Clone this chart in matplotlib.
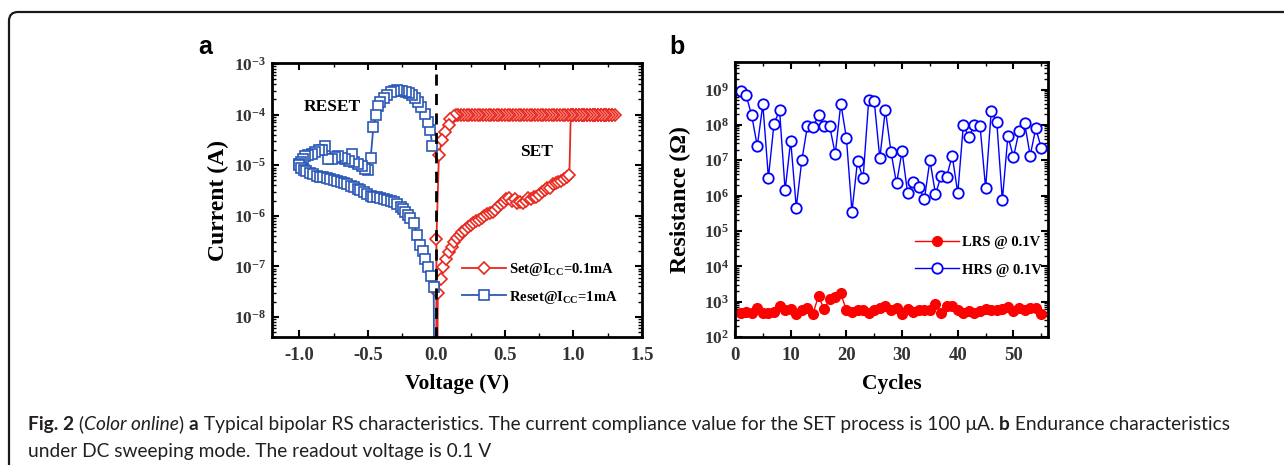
import matplotlib
matplotlib.use("Agg")
import matplotlib.pyplot as plt
from matplotlib.ticker import MultipleLocator, LogLocator, NullFormatter, FixedLocator
from matplotlib.patches import FancyBboxPatch

plt.rcParams['font.family'] = ['Liberation Serif', 'DejaVu Serif']
plt.rcParams['font.weight'] = 'bold'
plt.rcParams['mathtext.fontset'] = 'custom'
plt.rcParams['mathtext.rm'] = 'Liberation Serif:bold'
plt.rcParams['mathtext.it'] = 'Liberation Serif:bold:italic'
plt.rcParams['mathtext.bf'] = 'Liberation Serif:bold'
plt.rcParams['mathtext.default'] = 'rm'
plt.rcParams['axes.unicode_minus'] = False

# ---- panel a : I-V sweep ----
# SET: forward sweep 0 -> 0.97 V (high resistance), then compliance at 0.1 mA
set_v = [0.004, 0.01, 0.03, 0.05, 0.07, 0.09, 0.11, 0.13, 0.15, 0.17, 0.19, 0.21,
         0.23, 0.25, 0.27, 0.29, 0.31, 0.33, 0.35, 0.37, 0.39, 0.41, 0.43, 0.45,
         0.47, 0.49, 0.51, 0.53, 0.55, 0.57, 0.59, 0.61, 0.63, 0.65, 0.67, 0.69,
         0.71, 0.73, 0.75, 0.77, 0.79, 0.81, 0.83, 0.85, 0.87, 0.89, 0.91, 0.93,
         0.95, 0.97,
         0.98, 1.00, 1.02, 1.04, 1.06, 1.08, 1.10, 1.12, 1.14, 1.16, 1.18, 1.20,
         1.22, 1.24, 1.26, 1.28, 1.30,
         1.28, 1.26, 1.24, 1.22, 1.20, 1.18, 1.16, 1.14, 1.12, 1.10, 1.08, 1.06,
         1.04, 1.02, 1.00, 0.98, 0.96, 0.94, 0.92, 0.90, 0.88, 0.86, 0.84, 0.82,
         0.80, 0.78, 0.76, 0.74, 0.72, 0.70, 0.68, 0.66, 0.64, 0.62, 0.60, 0.58,
         0.56, 0.54, 0.52, 0.50, 0.48, 0.46, 0.44, 0.42, 0.40, 0.38, 0.36, 0.34,
         0.32, 0.30, 0.28, 0.26, 0.24, 0.22, 0.20, 0.18, 0.16, 0.14,
         0.125, 0.10, 0.089, 0.064, 0.04, 0.018, 0.0, -0.002]
set_i = [1e-10, 2.9e-8, 5.5e-8, 9.8e-8, 1.4e-7, 1.9e-7, 2.4e-7, 3.0e-7, 3.6e-7, 4.2e-7,
         4.8e-7, 5.3e-7, 5.9e-7, 6.5e-7, 7.1e-7, 7.7e-7, 8.4e-7, 9.1e-7, 1.0e-6,
         1.07e-6, 1.12e-6, 1.2e-6, 1.3e-6, 1.5e-6, 1.7e-6, 1.9e-6, 2.1e-6, 2.2e-6,
         2.0e-6, 2.1e-6, 1.8e-6, 1.9e-6, 1.8e-6, 2.0e-6, 2.2e-6, 2.1e-6, 2.4e-6,
         2.3e-6, 2.6e-6, 3.0e-6, 3.2e-6, 3.5e-6, 3.6e-6, 4.2e-6, 4.4e-6, 4.6e-6,
         4.9e-6, 5.3e-6, 5.8e-6, 6.3e-6,
         1e-4, 1e-4, 1e-4, 1e-4, 1e-4, 1e-4, 1e-4, 1e-4, 1e-4, 1e-4, 1e-4, 1e-4,
         1e-4, 1e-4, 1e-4, 1e-4, 1e-4,
         1e-4, 1e-4, 1e-4, 1e-4, 1e-4, 1e-4, 1e-4, 1e-4, 1e-4, 1e-4, 1e-4, 1e-4,
         1e-4, 1e-4, 1e-4, 1e-4, 1e-4, 1e-4, 1e-4, 1e-4, 1e-4, 1e-4, 1e-4, 1e-4,
         1e-4, 1e-4, 1e-4, 1e-4, 1e-4, 1e-4, 1e-4, 1e-4, 1e-4, 1e-4, 1e-4, 1e-4,
         1e-4, 1e-4, 1e-4, 1e-4, 1e-4, 1e-4, 1e-4, 1e-4, 1e-4, 1e-4, 1e-4, 1e-4,
         1e-4, 1e-4, 1e-4, 1e-4, 1e-4, 1e-4, 1e-4, 1e-4, 1e-4, 1e-4,
         9.6e-5, 8.3e-5, 6.2e-5, 4.6e-5, 3.1e-5, 1.6e-5, 3.5e-7, 1e-10]

# RESET: 0 -> -1.0 V (upper branch), then -1.0 -> 0 V (lower branch)
reset_v = [-0.03, -0.045, -0.06, -0.085, -0.11, -0.135, -0.16, -0.18, -0.20, -0.225,
           -0.25, -0.27, -0.29, -0.31, -0.335, -0.36, -0.385, -0.41, -0.425, -0.44,
           -0.46, -0.48, -0.50, -0.52, -0.545, -0.57, -0.60, -0.615, -0.64, -0.665,
           -0.69, -0.715, -0.74, -0.765, -0.795, -0.815, -0.835, -0.86, -0.885,
           -0.91, -0.935, -0.96, -0.975, -0.99, -1.0,
           -1.0, -0.985, -0.97, -0.95, -0.925, -0.90, -0.875, -0.85, -0.825, -0.80,
           -0.775, -0.75, -0.725, -0.70, -0.675, -0.65, -0.625, -0.60, -0.575,
           -0.555, -0.53, -0.505, -0.48, -0.46, -0.435, -0.41, -0.385, -0.36, -0.335,
           -0.31, -0.285, -0.26, -0.245, -0.227, -0.21, -0.19, -0.167, -0.14, -0.12,
           -0.10, -0.08, -0.06, -0.04, -0.02, -0.015]
reset_i = [2.4e-5, 4.9e-5, 7.2e-5, 1.05e-4, 1.4e-4, 1.8e-4, 2.1e-4, 2.5e-4, 2.7e-4,
           2.8e-4, 2.9e-4, 3.0e-4, 3.1e-4, 3.0e-4, 2.8e-4, 2.4e-4, 2.1e-4, 1.8e-4,
           1.5e-4, 9.8e-5, 5.8e-5, 1.4e-5, 8.0e-6, 8.5e-6, 9.5e-6, 1.05e-5, 1.15e-5,
           1.7e-5, 1.2e-5, 1.3e-5, 1.4e-5, 1.5e-5, 1.45e-5, 1.35e-5, 1.3e-5, 2.45e-5,
           2.0e-5, 2.0e-5, 1.8e-5, 1.7e-5, 1.6e-5, 1.5e-5, 1.3e-5, 1.15e-5, 1.05e-5,
           1.0e-5, 8.8e-6, 8.0e-6, 7.6e-6, 7.0e-6, 6.6e-6, 6.2e-6, 5.9e-6, 5.8e-6,
           5.7e-6, 5.4e-6, 5.1e-6, 4.9e-6, 4.7e-6, 4.4e-6, 4.2e-6, 3.9e-6, 3.7e-6,
           3.4e-6, 3.2e-6, 3.0e-6, 2.75e-6, 2.5e-6, 2.4e-6, 2.3e-6, 2.2e-6, 2.1e-6,
           2.05e-6, 1.95e-6, 1.9e-6, 1.7e-6, 1.5e-6, 1.35e-6, 1.2e-6, 1.05e-6, 8.9e-7,
           7.1e-7, 4.2e-7, 2.6e-7, 2.0e-7, 1.4e-7, 9.8e-8, 6.3e-8, 3.9e-8, 1e-10]

# ---- panel b : endurance ----
cycles = list(range(1, 56))
lrs = [480, 500, 480, 665, 480, 480, 500, 740, 570, 600, 440, 570, 665, 460, 1450,
       600, 1200, 1370, 1700, 570, 500, 570, 570, 480, 570, 640, 740, 570, 665, 460,
       600, 500, 570, 570, 570, 850, 480, 740, 775, 570, 480, 530, 480, 530, 600,
       570, 570, 600, 700, 530, 640, 570, 665, 665, 440]
hrs = [9.3e8, 6.8e8, 1.85e8, 2.5e7, 3.8e8, 3.2e6, 1.07e8, 2.6e8, 1.4e6, 3.6e7,
       4.6e5, 1.0e7, 9.1e7, 8.7e7, 1.86e8, 9.1e7, 9.1e7, 1.5e7, 4.0e8, 4.3e7,
       3.5e5, 9.6e6, 3.1e6, 4.9e8, 4.7e8, 1.12e7, 2.7e8, 1.74e7, 2.2e6, 1.8e7,
       1.15e6, 2.5e6, 1.75e6, 7.9e5, 1.0e7, 1.1e6, 3.5e6, 3.4e6, 1.35e7, 1.17e6,
       1.0e8, 4.5e7, 1.0e8, 9.5e7, 1.6e6, 2.4e8, 1.23e8, 7.4e5, 4.8e7, 1.23e7,
       6.6e7, 1.15e8, 1.35e7, 8.0e7, 2.2e7]

a_yticks = [1e-8, 1e-7, 1e-6, 1e-5, 1e-4, 1e-3]
a_ylabels = [r'$10^{-8}$', r'$10^{-7}$', r'$10^{-6}$', r'$10^{-5}$', r'$10^{-4}$', r'$10^{-3}$']
b_yticks = [1e2, 1e3, 1e4, 1e5, 1e6, 1e7, 1e8, 1e9]
b_ylabels = [r'$10^{2}$', r'$10^{3}$', r'$10^{4}$', r'$10^{5}$', r'$10^{6}$', r'$10^{7}$', r'$10^{8}$', r'$10^{9}$']

W, H = 1284, 465
fig = plt.figure(figsize=(W / 100, H / 100), dpi=100)

red_a = '#e8281e'
blue_a = '#2b58b8'
tick_col = '#333333'


def style_axes(ax):
    for s in ax.spines.values():
        s.set_linewidth(2)
    ax.tick_params(which='both', direction='in', top=True, right=True,
                   colors='black', labelcolor=tick_col)
    ax.tick_params(axis='x', labelsize=13.5, pad=7)
    ax.tick_params(axis='y', labelsize=12.5, pad=4)
    ax.tick_params(which='major', length=5, width=1.5)
    ax.tick_params(which='minor', length=3, width=1)
    for lab in ax.get_xticklabels() + ax.get_yticklabels():
        lab.set_fontweight('bold')


# panel a
ax1 = fig.add_axes([272 / W, 1 - 337 / H, 370 / W, 274 / H])
ax1.set_yscale('log')
ax1.plot(set_v, set_i, '-', color=red_a, lw=1.3, marker='D', ms=6.5,
         mfc='white', mec=red_a, mew=1.2, label=r'Set@I$_{\mathregular{CC}}$=0.1mA')
ax1.plot(reset_v, reset_i, '-', color=blue_a, lw=1.3, marker='s', ms=6.5,
         mfc='white', mec=blue_a, mew=1.2, label=r'Reset@I$_{\mathregular{CC}}$=1mA')
ax1.plot([0, 0], [6.5e-4, 1e-9], '--', color='black', lw=2, dashes=(4, 3))
ax1.set_xlim(-1.2, 1.5)
ax1.set_ylim(4e-9, 1.05e-3)
ax1.xaxis.set_minor_locator(MultipleLocator(0.25))
ax1.set_xticks([-1.0, -0.5, 0.0, 0.5, 1.0, 1.5])
ax1.set_xticklabels(['-1.0', '-0.5', '0.0', '0.5', '1.0', '1.5'])
ax1.yaxis.set_major_locator(FixedLocator(a_yticks))
ax1.set_yticklabels(a_ylabels)
ax1.yaxis.set_minor_locator(LogLocator(base=10, subs=range(2, 10), numticks=20))
ax1.yaxis.set_minor_formatter(NullFormatter())
style_axes(ax1)
ax1.set_xlabel('Voltage (V)', fontsize=15.5, fontweight='bold')
ax1.set_ylabel('Current (A)', fontsize=17, fontweight='bold')
ax1.xaxis.set_label_coords(0.5, -0.135)
ax1.yaxis.set_label_coords(-0.117, 0.5)
ax1.text(-0.76, 1.0e-4, 'RESET', fontsize=12.5, fontweight='bold', ha='center', va='bottom')
ax1.text(0.73, 1.25e-5, 'SET', fontsize=12.5, fontweight='bold', ha='center', va='bottom')
ax1.legend(loc='upper left', bbox_to_anchor=(0.498, 0.30), frameon=False, fontsize=10.5,
           handlelength=3.0, labelspacing=0.75, handletextpad=0.25, borderaxespad=0)

# panel b
ax2 = fig.add_axes([735 / W, 1 - 337 / H, 313 / W, 275 / H])
ax2.set_yscale('log')
ax2.plot(cycles, lrs, '-', color='#ff0000', lw=1, marker='o', ms=7,
         mfc='#ff0000', mec='#ff0000', label='LRS @ 0.1V')
ax2.plot(cycles, hrs, '-', color='#0000ff', lw=1, marker='o', ms=7.5,
         mfc='white', mec='#0000ff', mew=1.3, label='HRS @ 0.1V')
ax2.set_xlim(0, 56.2)
ax2.set_ylim(1e2, 6e9)
ax2.xaxis.set_major_locator(MultipleLocator(10))
ax2.xaxis.set_minor_locator(MultipleLocator(5))
ax2.yaxis.set_major_locator(FixedLocator(b_yticks))
ax2.set_yticklabels(b_ylabels)
ax2.yaxis.set_minor_locator(LogLocator(base=10, subs=range(2, 10), numticks=20))
ax2.yaxis.set_minor_formatter(NullFormatter())
style_axes(ax2)
ax2.set_xlabel('Cycles', fontsize=15.5, fontweight='bold')
ax2.set_ylabel('Resistance (\u03a9)', fontsize=17, fontweight='bold')
ax2.xaxis.set_label_coords(0.5, -0.135)
ax2.yaxis.set_label_coords(-0.142, 0.5)
ax2.legend(loc='upper left', bbox_to_anchor=(0.556, 0.39), frameon=False, fontsize=10.5,
           handlelength=3.0, labelspacing=1.0, handletextpad=0.25, borderaxespad=0)

# panel letters
fig.text(205 / W, 1 - 47 / H, 'a', family='Liberation Sans', fontsize=18,
         fontweight='bold', va='center', ha='center')
fig.text(677 / W, 1 - 47 / H, 'b', family='Liberation Sans', fontsize=18,
         fontweight='bold', va='center', ha='center')

# frame around the figure (only top-left corner visible)
frame = FancyBboxPatch((9, -60), 1500, 453 + 60, boxstyle='round,pad=0,rounding_size=9',
                       transform=None, fill=False, lw=1.6, ec='#1a1a1a')
fig.patches.append(frame)

# caption, drawn piece by piece
cap_font = 'Lato'
cap_size = 13.8
line1 = [('Fig. 2', 'bold', 'normal'), (' (', 'normal', 'normal'),
         ('Color online', 'normal', 'italic'), (') ', 'normal', 'normal'),
         ('a', 'bold', 'normal'),
         (' Typical bipolar RS characteristics. The current compliance value for the SET process is 100 \u03bcA. ',
          'normal', 'normal'),
         ('b', 'bold', 'normal'), (' Endurance characteristics', 'normal', 'normal')]
line2 = [('under DC sweeping mode. The readout voltage is 0.1 V', 'normal', 'normal')]

renderer = fig.canvas.get_renderer()
for parts, ypix in [(line1, 424), (line2, 451)]:
    x = 28
    for txt, wt, st in parts:
        t = fig.text(x / W, 1 - ypix / H, txt, family=cap_font, fontsize=cap_size,
                     fontweight=wt, fontstyle=st, va='center', ha='left', color='#231f20')
        bb = t.get_window_extent(renderer)
        x += bb.width

fig.savefig('out.png', dpi=100)
